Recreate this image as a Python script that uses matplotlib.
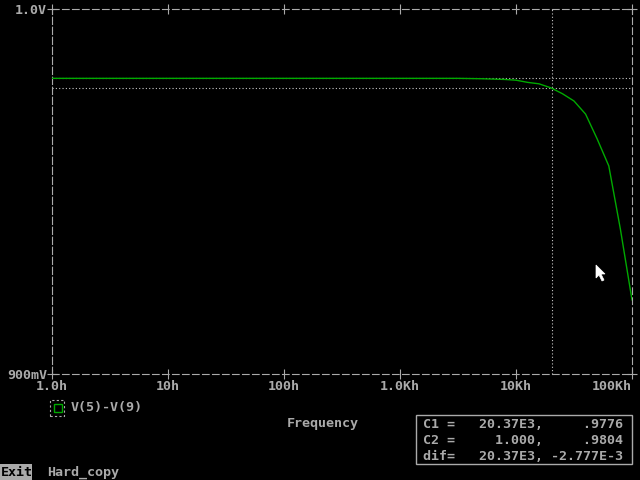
import numpy as np
import matplotlib
matplotlib.use("Agg")
import matplotlib.pyplot as plt
from matplotlib.patches import Rectangle, Polygon

# Curve: frequency (Hz) and V(5)-V(9) (V)
freq = [1.0, 10.0, 100.0, 1000.0, 3160.0, 5010.0, 6310.0, 7940.0, 10000.0,
        12600.0, 15800.0, 20000.0, 25100.0, 31600.0, 39800.0, 50100.0,
        63100.0, 79400.0, 100000.0]
volts = [0.9810, 0.9810, 0.9810, 0.9810, 0.9810, 0.9809, 0.9808, 0.9807, 0.9805,
         0.9799, 0.9795, 0.9784, 0.9768, 0.9748, 0.9712, 0.9644,
         0.9570, 0.9397, 0.9203]

xticks = [1, 10, 100, 1e3, 1e4, 1e5]
xlabels = ["1.0h", "10h", "100h", "1.0Kh", "10Kh", "100Kh"]
yticks = [0.9, 1.0]
ylabels = ["900mV", "1.0V"]

# cursors: C1 at 20.37 kHz, C2 at 1.0 Hz
c1_x, c1_y = 20370.0, 0.9784
c2_x, c2_y = 1.0, 0.9810
cursor_lines = ["C1 =   20.37E3,     .9776",
                "C2 =     1.000,     .9804",
                "dif=   20.37E3, -2.777E-3"]

GRAY = "#aaaaaa"
GREEN = "#00aa00"
W, H = 640, 480
FONT = dict(family="DejaVu Sans Mono", fontweight="bold", fontsize=9.6, color=GRAY)


def px(x, y):
    # screen pixel (from top-left) -> figure fraction
    return x / W, 1 - y / H


fig = plt.figure(figsize=(6.4, 4.8), dpi=100, facecolor="black")
ax = fig.add_axes([52 / W, 1 - 374 / H, 580 / W, 365 / H], facecolor="black")

ax.plot(freq, volts, color=GREEN, lw=1.0, zorder=3)

ax.set_xscale("log")
ax.set_xlim(1, 1e5)
ax.set_ylim(0.9, 1.0)

# cursor crosshairs (dotted)
dot = dict(color="#c8c8c8", lw=0.8, ls=(0, (1, 2)), zorder=2)
ax.axvline(c1_x, **dot)
ax.axvline(c2_x, **dot)
ax.axhline(c1_y, **dot)
ax.axhline(c2_y, **dot)

for sp in ax.spines.values():
    sp.set_color(GRAY)
    sp.set_linewidth(0.8)
    sp.set_linestyle((0, (6, 3)))

ax.minorticks_off()
ax.set_xticks(xticks)
ax.set_xticklabels(xlabels)
ax.set_yticks(yticks)
ax.set_yticklabels(ylabels)
ax.tick_params(axis="both", direction="inout", length=7, width=0.8, color=GRAY,
               top=True, right=True, labelcolor=GRAY)
ax.tick_params(axis="x", pad=1)
ax.tick_params(axis="y", pad=0)
for lab in ax.get_xticklabels() + ax.get_yticklabels():
    lab.set_family("DejaVu Sans Mono")
    lab.set_fontweight("bold")
    lab.set_fontsize(9.6)
ax.get_xticklabels()[-1].set_ha("right")

# legend entry
fig.patches.append(Rectangle(px(50, 416), 14 / W, 16 / H, transform=fig.transFigure,
                             fill=False, ec=GRAY, lw=0.8, ls=(0, (2, 2))))
fig.patches.append(Rectangle(px(54, 412), 8 / W, 8 / H, transform=fig.transFigure,
                             fill=False, ec=GREEN, lw=1.0))
fig.text(*px(71, 408), "V(5)-V(9)", va="center", ha="left", **FONT)

fig.text(*px(323, 423), "Frequency", va="center", ha="center", **FONT)

# cursor readout box
fig.patches.append(Rectangle(px(416, 464), 216 / W, 49 / H, transform=fig.transFigure,
                             fill=False, ec=GRAY, lw=1.0))
for i, line in enumerate(cursor_lines):
    fig.text(*px(423, 424 + 16 * i), line, va="center", ha="left", **FONT)

# mouse pointer
arrow = [(596, 265), (596, 278), (599, 275), (602, 281), (604, 280), (601, 274), (605, 274)]
fig.patches.append(Polygon([px(x, y) for x, y in arrow], closed=True,
                           transform=fig.transFigure, fc="white", ec="white", lw=0.5))

# bottom menu
fig.patches.append(Rectangle(px(0, 480), 32 / W, 16 / H, transform=fig.transFigure,
                             fc=GRAY, ec="none"))
fig.text(*px(1, 472), "Exit", va="center", ha="left",
         **{**FONT, "color": "black"})
fig.text(*px(47, 472), "Hard_copy", va="center", ha="left", **FONT)

fig.savefig("out.png", dpi=100, facecolor="black")
